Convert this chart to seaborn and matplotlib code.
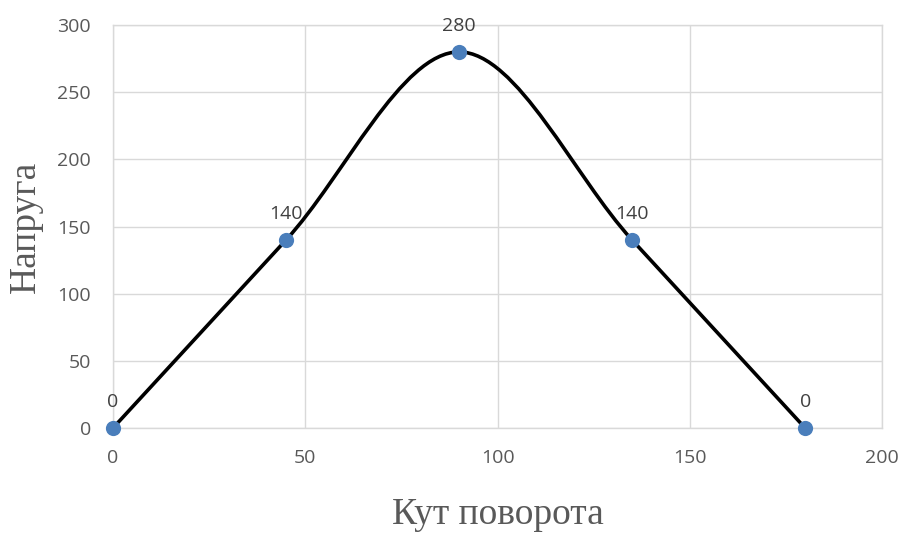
import numpy as np
import pandas as pd
import seaborn as sns
import matplotlib.pyplot as plt
from matplotlib.path import Path
from matplotlib.patches import PathPatch

# data
angle = [0, 45, 90, 135, 180]
stress = [0, 140, 280, 140, 0]
point_labels = ["0", "140", "280", "140", "0"]

x_ticks = [0, 50, 100, 150, 200]
y_ticks = [0, 50, 100, 150, 200, 250, 300]

df = pd.DataFrame({"angle": angle, "stress": stress})

sns.set_style("white")
plt.rcParams["font.family"] = ["Open Sans", "DejaVu Sans"]

fig = plt.figure(figsize=(9.04, 5.33), dpi=100)
ax = fig.add_axes([0.125, 0.197, 0.8507, 0.756])

# smoothed line like Excel (Catmull-Rom as cubic Bezier segments)
pts = df[["angle", "stress"]].to_numpy(dtype=float)
verts = [pts[0]]
codes = [Path.MOVETO]
n = len(pts)
for i in range(n - 1):
    p0 = pts[max(i - 1, 0)]
    p1 = pts[i]
    p2 = pts[i + 1]
    p3 = pts[min(i + 2, n - 1)]
    c1 = p1 + (p2 - p0) / 6.0
    c2 = p2 - (p3 - p1) / 6.0
    verts += [c1, c2, p2]
    codes += [Path.CURVE4] * 3
ax.add_patch(PathPatch(Path(verts, codes), facecolor="none", edgecolor="black",
                       lw=2.6, capstyle="round", joinstyle="round", zorder=3))

sns.scatterplot(data=df, x="angle", y="stress", ax=ax, s=120, color="#4a7ebb",
                edgecolor="#4a7ebb", linewidth=0, zorder=4, clip_on=False)

for xv, yv, lab in zip(angle, stress, point_labels):
    ax.annotate(lab, (xv, yv), xytext=(0, 12), textcoords="offset points",
                ha="center", va="bottom", fontsize=14, color="#404040")

ax.set_xlim(0, 200)
ax.set_ylim(0, 300)
ax.set_xticks(x_ticks)
ax.set_yticks(y_ticks)
ax.grid(True, color="#d9d9d9", lw=1.0)
ax.set_axisbelow(True)
for sp in ax.spines.values():
    sp.set_color("#d9d9d9")
    sp.set_linewidth(1.0)
ax.tick_params(axis="both", length=0, labelsize=14, labelcolor="#595959")
ax.tick_params(axis="y", pad=16)
ax.tick_params(axis="x", pad=15)

ax.set_xlabel("Кут поворота", family=["Liberation Serif"], fontsize=27,
              color="#595959", labelpad=22)
ax.set_ylabel("Напруга", family=["Liberation Serif"], fontsize=27,
              color="#595959", labelpad=10)

plt.savefig("out.png", dpi=100)
